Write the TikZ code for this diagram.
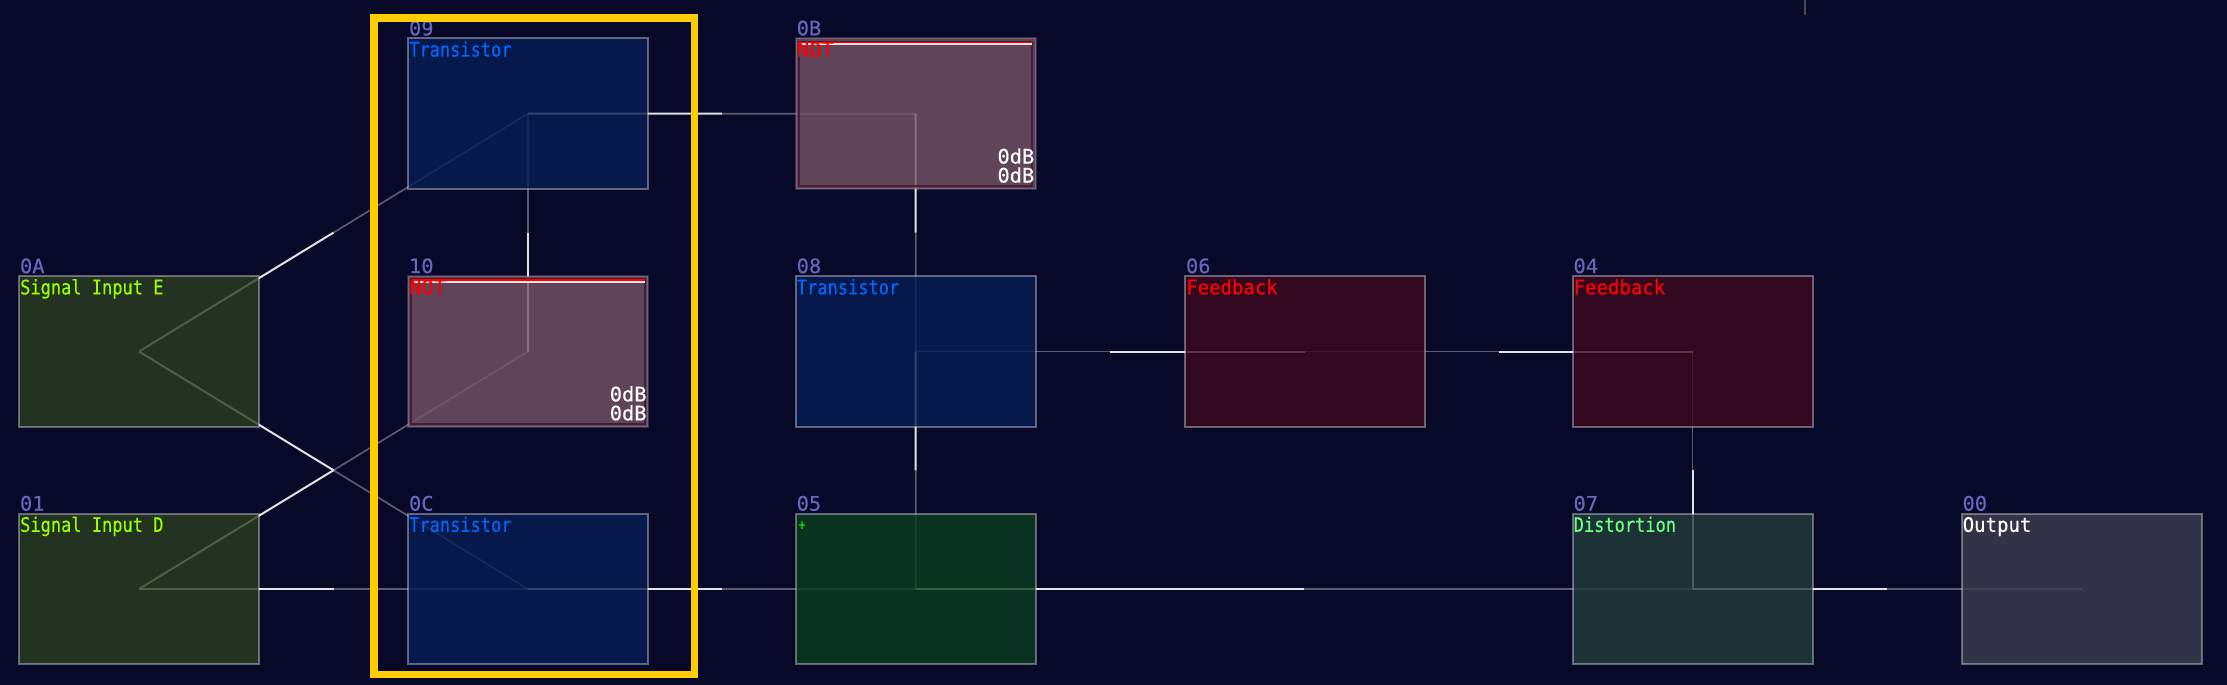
\documentclass[tikz,border=0pt]{standalone}
\usepackage{fontspec}
\usetikzlibrary{calc,backgrounds}
\newfontfamily\pixn[FakeStretch=0.85,FakeBold=0.35]{DejaVu Sans Mono}
\newfontfamily\pixm[FakeStretch=0.95,FakeBold=0.35]{DejaVu Sans Mono}
\newfontfamily\pixw[FakeStretch=1.02,FakeBold=0.35]{DejaVu Sans Mono}
\definecolor{pagebg}{RGB}{8,8,41}
\definecolor{ctrans}{RGB}{6,30,83}
\definecolor{cnot}{RGB}{119,84,102}
\definecolor{cframe}{RGB}{66,26,52}
\definecolor{csig}{RGB}{42,61,32}
\definecolor{cadd}{RGB}{11,61,31}
\definecolor{cfeed}{RGB}{61,8,30}
\definecolor{cdist}{RGB}{35,61,59}
\definecolor{cout}{RGB}{62,62,79}
\definecolor{tidx}{RGB}{102,102,190}
\definecolor{ttrans}{RGB}{0,102,255}
\definecolor{tsig}{RGB}{150,255,0}
\definecolor{tadd}{RGB}{0,255,0}
\definecolor{tdist}{RGB}{110,255,130}
\definecolor{hi}{RGB}{226,226,226}
\definecolor{yel}{RGB}{255,204,0}
\tikzset{
  box/.style={rectangle,inner sep=0pt,outer sep=0pt,minimum width=240pt,minimum height=150.7pt,
    line width=2pt,draw=white,draw opacity=.36,fill opacity=.8},
  notbox/.style={box,draw opacity=.16},
  notframe/.style={rectangle,inner sep=0pt,outer sep=0pt,minimum width=233.5pt,minimum height=144.2pt,
    line width=2pt,draw=cframe,draw opacity=.9},
  idx/.style={anchor=base west,inner sep=0pt,font=\fontsize{20}{20}\selectfont\pixw,text=tidx},
  nm/.style={anchor=base west,inner sep=0pt,font=\fontsize{20}{20}\selectfont\pixn},
  nmm/.style={anchor=base west,inner sep=0pt,font=\fontsize{20}{20}\selectfont\pixm},
  nmw/.style={anchor=base west,inner sep=0pt,font=\fontsize{20}{20}\selectfont\pixw},
  db/.style={anchor=base east,inner sep=0pt,font=\fontsize{20}{20}\selectfont\pixw,text=white},
  wirehot/.style={draw=hi,line width=2pt},
  wiredim/.style={draw=white,draw opacity=.33,line width=1.7pt},
}
\newcommand{\wire}[2]{%
  \draw[wiredim] ($(#1.center)!.5!(#2.center)$) -- (#2.center);
  \draw[wirehot] (#1.center) -- ($(#1.center)!.5!(#2.center)$);}
\newcommand{\boxlabels}[4]{% node, index, name style+colour, name
  \node[idx] (#1i) at ([shift={(0.8,-3)}]#1.north west) {#2};
  \node[#3] (#1t) at ([shift={(1,18.2)}]#1.north west) {#4};}
\newcommand{\notparts}[1]{%
  \node[notframe] (#1f) at (#1.center) {};
  \draw[draw={rgb,255:red,255;green,225;blue,225},line width=1.6pt] ([shift={(3.5,5.6)}]#1.north west) -- ([shift={(-3.5,5.6)}]#1.north east);
  \draw[draw=red,line width=1.5pt] ([shift={(3.5,4)}]#1.north west) -- ([shift={(-3.5,4)}]#1.north east);
  \node[db] (#1da) at ([shift={(-1.2,-25.5)}]#1.south east) {0dB};
  \node[db] (#1db) at ([shift={(-1.2,-6.5)}]#1.south east) {0dB};}
\begin{document}
\begin{tikzpicture}[x=1pt,y=-1pt]
\useasboundingbox (0,0) rectangle (2227,685);
% module boxes
\node[box,fill=csig]   (n0A) at (139,351.5) {};
\node[box,fill=csig]   (n01) at (139,589) {};
\node[box,fill=ctrans] (n09) at (528,113.7) {};
\node[notbox,fill=cnot]   (n10) at (528,351.5) {};
\node[box,fill=ctrans] (n0C) at (528,589) {};
\node[notbox,fill=cnot]   (n0B) at (915.7,113.7) {};
\node[box,fill=ctrans] (n08) at (915.7,351.5) {};
\node[box,fill=cadd]   (n05) at (915.7,589) {};
\node[box,fill=cfeed]  (n06) at (1305,351.5) {};
\node[box,fill=cfeed]  (n04) at (1692.5,351.5) {};
\node[box,fill=cdist]  (n07) at (1692.5,589) {};
\node[box,fill=cout]   (n00) at (2081.5,589) {};
% wires under the translucent boxes
\begin{pgfonlayer}{background}
\fill[pagebg] (0,0) rectangle (2227,685);
\wire{n0A}{n09}
\wire{n0A}{n0C}
\wire{n01}{n10}
\wire{n01}{n0C}
\wire{n10}{n09}
\wire{n09}{n0B}
\wire{n0B}{n08}
\wire{n08}{n05}
\wire{n06}{n08}
\wire{n04}{n06}
\wire{n07}{n04}
\wire{n0C}{n05}
\wire{n05}{n07}
\wire{n07}{n00}
\coordinate (tickA) at (1805,0);
\coordinate (tickB) at (1805,14.7);
\draw[draw={rgb,255:red,72;green,72;blue,92},line width=2.4pt] (tickA) -- (tickB);
\end{pgfonlayer}
% NOT details
\notparts{n10}
\notparts{n0B}
% labels
\boxlabels{n0A}{0A}{nm,text=tsig}{Signal Input E}
\boxlabels{n01}{01}{nm,text=tsig}{Signal Input D}
\boxlabels{n09}{09}{nm,text=ttrans}{Transistor}
\boxlabels{n10}{10}{nmw,text=red}{NOT}
\boxlabels{n0C}{0C}{nm,text=ttrans}{Transistor}
\boxlabels{n0B}{0B}{nmw,text=red}{NOT}
\boxlabels{n08}{08}{nm,text=ttrans}{Transistor}
\boxlabels{n05}{05}{nm,text=tadd}{}
\node[anchor=center,inner sep=0pt,font=\fontsize{14}{14}\selectfont\pixn,text=tadd] (n05p) at (802,525.5) {+};
\boxlabels{n06}{06}{nmm,text=red}{Feedback}
\boxlabels{n04}{04}{nmm,text=red}{Feedback}
\boxlabels{n07}{07}{nm,text=tdist}{Distortion}
\boxlabels{n00}{00}{nmm,text=white}{Output}
% highlight frame
\node[rectangle,inner sep=0pt,outer sep=0pt,minimum width=320.75pt,minimum height=656.5pt,line width=7.6pt,draw=yel] (hl) at (534.1,346.2) {};
\end{tikzpicture}
\end{document}
